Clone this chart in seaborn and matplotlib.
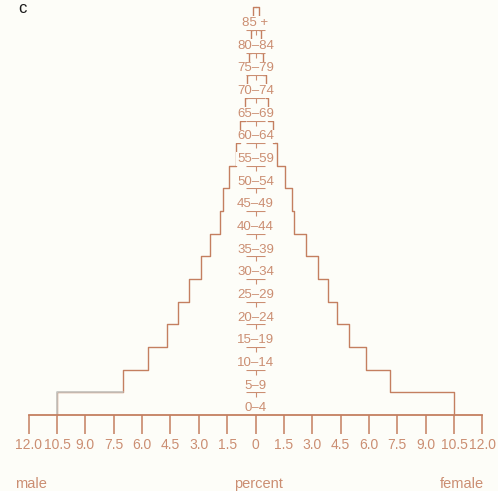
import numpy as np
import pandas as pd
import seaborn as sns
import matplotlib.pyplot as plt

# 연령대 / 성별 비율(%)
age_groups = ['0–4', '5–9', '10–14', '15–19', '20–24', '25–29', '30–34', '35–39',
              '40–44', '45–49', '50–54', '55–59', '60–64', '65–69', '70–74',
              '75–79', '80–84', '85 +']
male = [10.5, 7.0, 5.7, 4.7, 4.1, 3.5, 2.9, 2.4, 1.9, 1.7, 1.4, 1.05,
        0.82, 0.58, 0.45, 0.33, 0.22, 0.12]
female = [10.5, 7.1, 5.85, 4.95, 4.3, 3.85, 3.3, 2.65, 2.05, 1.95, 1.55, 1.15,
          0.92, 0.68, 0.55, 0.4, 0.3, 0.16]
tick_values = [-12, -10.5, -9, -7.5, -6, -4.5, -3, -1.5, 0,
               1.5, 3, 4.5, 6, 7.5, 9, 10.5, 12]
tick_labels = ['12.0', '10.5', '9.0', '7.5', '6.0', '4.5', '3.0', '1.5', '0',
               '1.5', '3.0', '4.5', '6.0', '7.5', '9.0', '10.5', '12.0']

LINE = '#c47f60'
TEXT = '#cb8e72'
BG = '#fdfdf8'

sns.set_style('white')
plt.rcParams['font.family'] = ['Liberation Sans', 'DejaVu Sans']

fig = plt.figure(figsize=(4.98, 4.91), dpi=100, facecolor=BG)
ax = fig.add_axes([0, 0, 1, 1])
ax.set_facecolor(BG)

n = len(age_groups)
edges = np.arange(n + 1)


def outline(values, sign):
    # 계단형 외곽선 (아래에서 위로, 맨 위는 가운데까지)
    xs = np.append(np.repeat(np.asarray(values) * sign, 2), 0)
    ys = np.append(np.repeat(edges, 2)[1:-1], n)
    return pd.DataFrame({'x': xs, 'y': ys})


for vals, sign in [(male, -1), (female, 1)]:
    sns.lineplot(data=outline(vals, sign), x='x', y='y', sort=False,
                 estimator=None, color=LINE, lw=1.0, ax=ax)

# 왼쪽 맨 아래 칸은 인쇄가 흐릿함
sns.lineplot(x=[-male[0], -male[0], -male[1]], y=[0, 1, 1], sort=False,
             estimator=None, color='#c4c4c0', lw=1.2, ax=ax)

# 가운데 눈금 (T 모양)
inner = edges[1:-1]
ax.hlines(inner, -0.48, 0.48, color=TEXT, lw=0.8)
ax.vlines(np.zeros(len(inner)), inner - 0.22, inner, color=TEXT, lw=0.8)

# 연령대 라벨
for i, g in enumerate(age_groups):
    ax.text(0, i + 0.3, g, ha='center', va='center', fontsize=9.5, color=TEXT,
            bbox=dict(facecolor=BG, edgecolor='none', pad=0.6))

# x축
for s in ['top', 'left', 'right']:
    ax.spines[s].set_visible(False)
ax.spines['bottom'].set_position(('data', 0))
ax.spines['bottom'].set_bounds(-12, 12)
ax.spines['bottom'].set_color(LINE)
ax.spines['bottom'].set_linewidth(1.3)
ax.spines['bottom'].set_zorder(5)
ax.set_xticks(tick_values, tick_labels)
ax.set_yticks([])
ax.tick_params(axis='x', bottom=True, direction='out', length=13.7, width=1.1,
               color=LINE, labelcolor=TEXT, labelsize=10, pad=3)
ax.set_xlabel('')
ax.set_ylabel('')

px = 18.9
py = 22.65
ax.set_xlim(-255.5 / px, (498 - 255.5) / px)
ax.set_ylim(-(491 - 415) / py, 415 / py)

fig.text(31 / 498, 1 - 484 / 491, 'male', ha='center', va='center',
         fontsize=10.5, color=TEXT)
fig.text(258 / 498, 1 - 484 / 491, 'percent', ha='center', va='center',
         fontsize=10.5, color=TEXT)
fig.text(462 / 498, 1 - 484 / 491, 'female', ha='center', va='center',
         fontsize=10.5, color=TEXT)
fig.text(22 / 498, 1 - 13 / 491, 'c', ha='center', va='baseline',
         fontsize=12, color='#1a1a1a')

fig.savefig('out.png', dpi=100, facecolor=BG)
